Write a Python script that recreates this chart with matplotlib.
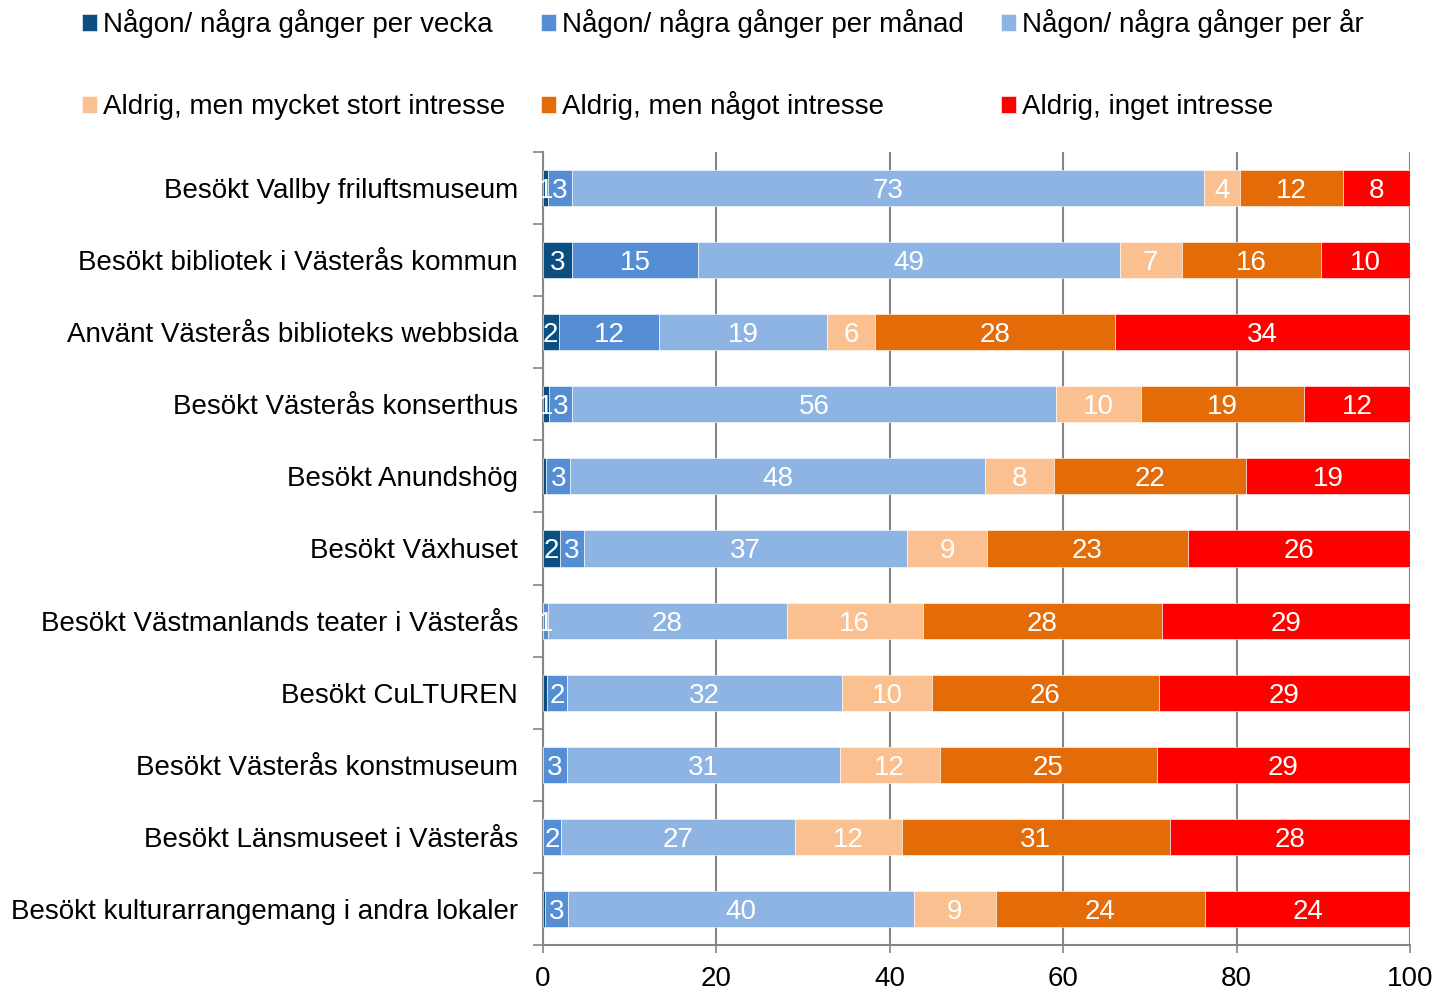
import numpy as np
import matplotlib.pyplot as plt

plt.rcParams['font.family'] = ['Liberation Sans', 'DejaVu Sans']

kategorier = [
    "Besökt Vallby friluftsmuseum",
    "Besökt bibliotek i Västerås kommun",
    "Använt Västerås biblioteks webbsida",
    "Besökt Västerås konserthus",
    "Besökt Anundshög",
    "Besökt Växhuset",
    "Besökt Västmanlands teater i Västerås",
    "Besökt CuLTUREN",
    "Besökt Västerås konstmuseum",
    "Besökt Länsmuseet i Västerås",
    "Besökt kulturarrangemang i andra lokaler",
]

serier = [
    "Någon/ några gånger per vecka",
    "Någon/ några gånger per månad",
    "Någon/ några gånger per år",
    "Aldrig, men mycket stort intresse",
    "Aldrig, men något intresse",
    "Aldrig, inget intresse",
]

vecka = [0.6, 3.3, 1.8, 0.7, 0.4, 2.0, 0.0, 0.45, 0.0, 0.0, 0.2]
manad = [2.7, 14.6, 11.6, 2.6, 2.7, 2.7, 0.6, 2.35, 2.8, 2.1, 2.7]
ar = [72.9, 48.6, 19.4, 55.9, 47.9, 37.3, 27.5, 31.7, 31.4, 27.0, 39.9]
stort = [4.2, 7.2, 5.5, 9.8, 7.9, 9.2, 15.7, 10.4, 11.6, 12.3, 9.4]
nagot = [11.9, 16.0, 27.7, 18.8, 22.2, 23.2, 27.6, 26.1, 25.0, 30.9, 24.2]
inget = [7.7, 10.3, 34.0, 12.2, 18.9, 25.6, 28.6, 29.0, 29.2, 27.7, 23.6]

farger = ["#0B4F80", "#558ED5", "#8EB4E3", "#FAC090", "#E36C09", "#FF0000"]

fig = plt.figure(figsize=(14.37, 9.91), dpi=100)
ax = fig.add_axes([543/1437, 1-945/991, 867/1437, 793/991])

y = np.arange(len(kategorier))
left = np.zeros(len(kategorier))
handles = []
for namn, vals, c in zip(serier, [vecka, manad, ar, stort, nagot, inget], farger):
    vals = np.array(vals)
    b = ax.barh(y, vals, left=left, height=0.5, color=c, label=namn,
                edgecolor="white", linewidth=0.4, zorder=3)
    handles.append(b)
    for yi, l, v in zip(y, left, vals):
        n = int(v + 0.5)
        if n >= 1:
            ax.text(l + v/2, yi, f"{n}", ha="center", va="center_baseline",
                    color="white", fontsize=20, zorder=4)
    left = left + vals

ax.set_xlim(0, 100)
ax.set_ylim(10.5, -0.5)
ax.set_xticks(range(0, 101, 20))
ax.tick_params(axis="x", direction="out", length=6, width=1.2, color="#868686",
               labelsize=20, pad=9)
ax.set_yticks(y)
ax.set_yticklabels(kategorier, fontsize=20)
ax.set_yticks(np.arange(-0.5, 11, 1), minor=True)
ax.tick_params(axis="y", which="major", length=0, pad=18)
ax.tick_params(axis="y", which="minor", length=7, width=1.2, color="#868686")

ax.grid(axis="x", color="#868686", linewidth=1.5, zorder=0)
for s in ["top", "right"]:
    ax.spines[s].set_visible(False)
for s in ["left", "bottom"]:
    ax.spines[s].set_color("#868686")
    ax.spines[s].set_linewidth(1.5)

# legend: 3 columns, 2 rows, one entry each at fixed spots
kol_x = [82, 541, 1001]
rad_y = [38, 120]
for i, (h, namn) in enumerate(zip(handles, serier)):
    x0 = kol_x[i % 3]
    y0 = rad_y[i // 3]
    fig.legend([h], [namn], loc="lower left",
               bbox_to_anchor=(x0/1437, 1 - y0/991),
               frameon=False, fontsize=20, handlelength=0.55, handleheight=0.55,
               handletextpad=0.2, borderaxespad=0, borderpad=0)

fig.savefig("out.png", dpi=100)
